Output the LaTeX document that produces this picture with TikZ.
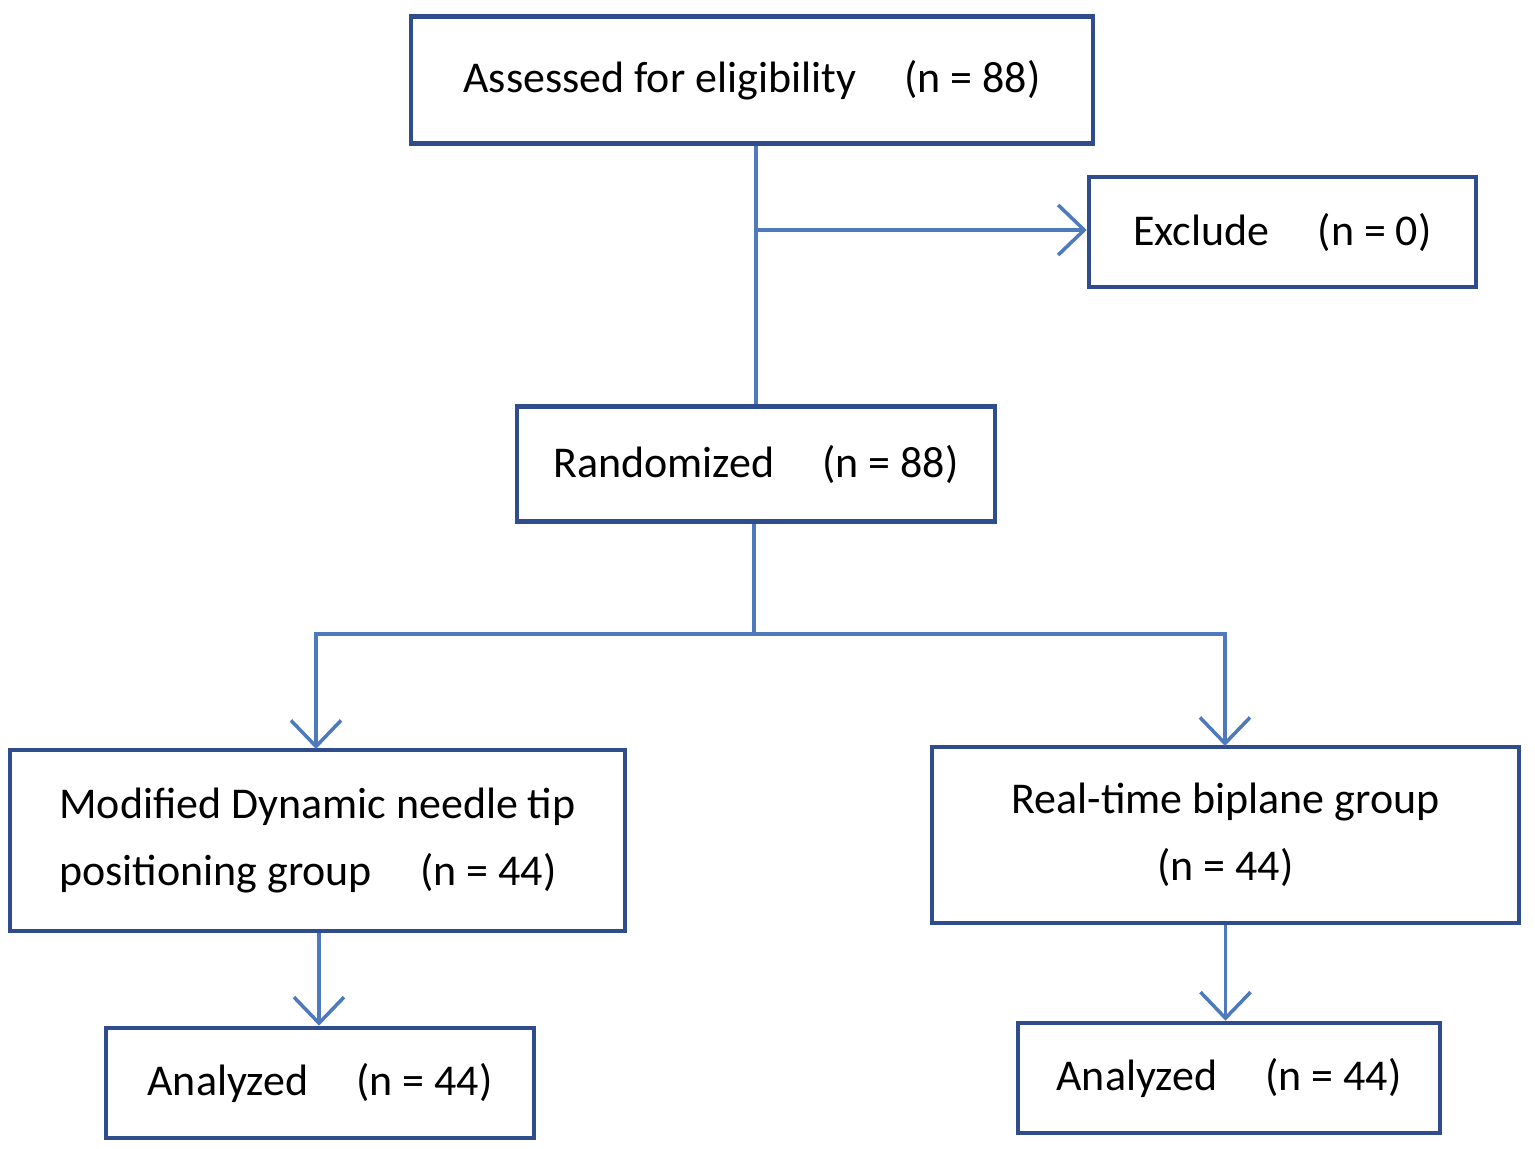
\documentclass[tikz,border=0pt]{standalone}
\usepackage{fontspec}
\setmainfont{Carlito}
\usetikzlibrary{arrows.meta}
\definecolor{boxblue}{HTML}{2F4D8C}
\definecolor{lineblue}{HTML}{4F79BD}
\tikzset{
	flowbox/.style={draw=boxblue, line width=1.3pt, inner sep=0pt, font=\fontsize{12.5}{19}\selectfont, align=left},
	flowline/.style={draw=lineblue, line width=1pt},
	flowarrow/.style={flowline, -{Straight Barb[length=2.6mm, width=5mm, line width=1pt]}}
}
\begin{document}
\begin{tikzpicture}[x=0.01cm, y=-0.01cm]
		\useasboundingbox (0,0) rectangle (1535,1149);
		
		\node[flowbox, minimum width=682*0.01cm, minimum height=127*0.01cm] (assess) at (752,80) {Assessed for eligibility\hspace{1.1em}(n = 88)};
		\node[flowbox, minimum width=387*0.01cm, minimum height=110*0.01cm] (exclude) at (1282.5,232) {Exclude\hspace{1.1em}(n = 0)};
		\node[flowbox, minimum width=478*0.01cm, minimum height=115*0.01cm] (random) at (756,464) {Randomized\hspace{1.1em}(n = 88)};
		\node[flowbox, minimum width=615*0.01cm, minimum height=181*0.01cm] (modified) at (317.5,840.5) {Modified Dynamic needle tip\\positioning group\hspace{1.1em}(n = 44)};
		\node[flowbox, minimum width=587*0.01cm, minimum height=176*0.01cm, align=center] (realtime) at (1225.5,835) {Real-time biplane group\\(n = 44)};
		\node[flowbox, minimum width=428*0.01cm, minimum height=110*0.01cm] (analA) at (320,1083) {Analyzed\hspace{1.1em}(n = 44)};
		\node[flowbox, minimum width=422*0.01cm, minimum height=110*0.01cm] (analB) at (1229,1078) {Analyzed\hspace{1.1em}(n = 44)};
		
		\coordinate (split) at (756,230);
		\coordinate (fork) at (754,634);
		
		\draw[flowline] (assess.south -| split) -- (random.north -| split);
		\draw[flowarrow] (split) -- (exclude.west |- split);
		\draw[flowline] (random.south -| fork) -- (fork);
		\draw[flowarrow] (fork) -| (316,749);
		\draw[flowarrow] (fork) -| (1225,746);
		\draw[flowarrow] (modified.south -| 319,0) -- (analA.north -| 319,0);
		\draw[flowarrow] (realtime.south) -- (analB.north -| realtime.south);
	\end{tikzpicture}
\end{document}
